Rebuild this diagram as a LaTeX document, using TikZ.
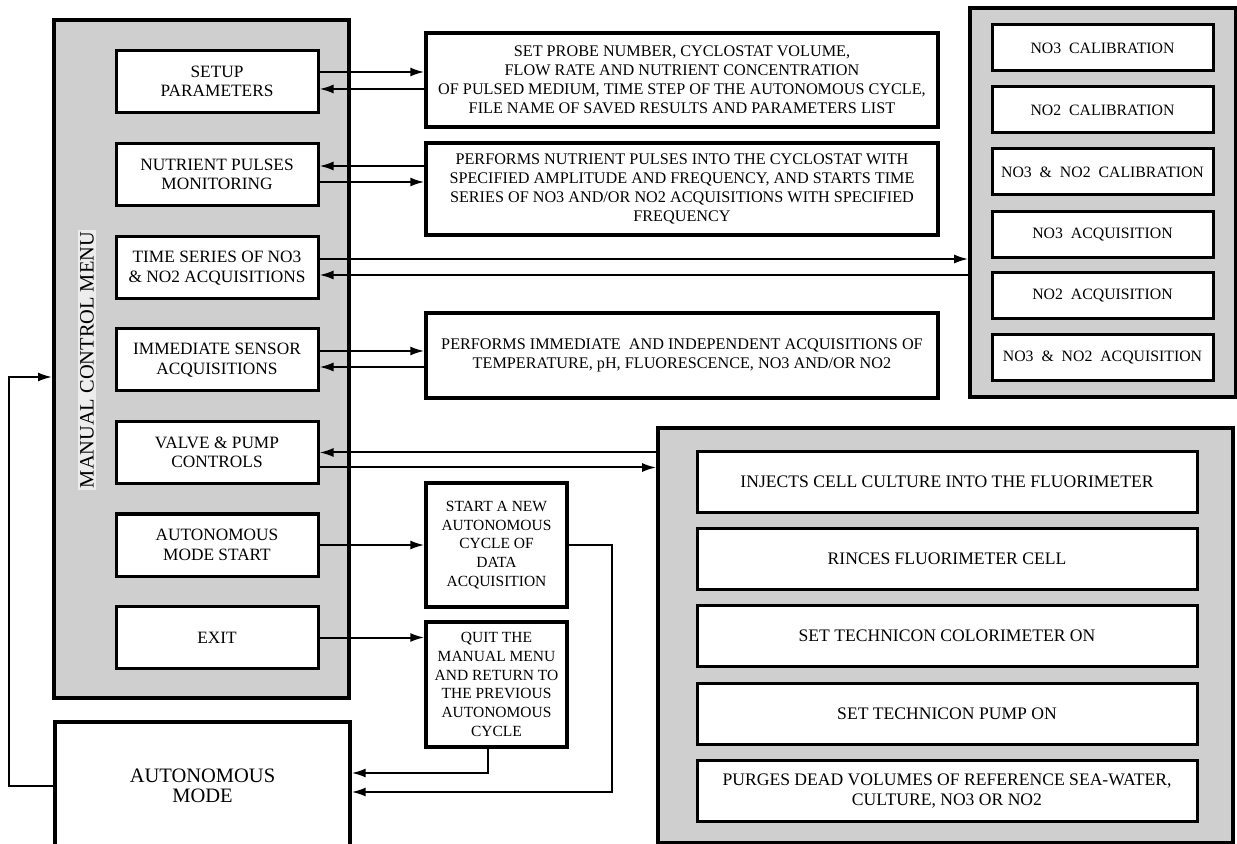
\documentclass[tikz,border=0pt]{standalone}
\usepackage{fontspec}
\setmainfont{Liberation Serif}
\usetikzlibrary{arrows.meta,positioning}

\begin{document}
\begin{tikzpicture}[x=0.5pt,y=-0.5pt,
  panel/.style={draw,line width=1.8pt,fill=black!19,inner sep=0pt},
  menuitem/.style={draw,line width=1.5pt,fill=white,align=center,inner sep=0pt,
    minimum width=101pt,minimum height=31pt,font=\fontsize{8.65}{9.7}\selectfont},
  descbox/.style={draw,line width=1.7pt,fill=white,align=center,inner sep=0pt,
    minimum width=256pt,font=\fontsize{8.1}{9.5}\selectfont},
  listitem/.style={draw,line width=1.5pt,fill=white,align=center,inner sep=0pt,
    font=\fontsize{8.8}{9.6}\selectfont},
  link/.style={line width=1pt,-{Latex[length=7pt,width=4.5pt]}},
  wire/.style={line width=1pt}]
  \useasboundingbox (0,0) rectangle (1237,844);

  % Manual control menu
  \node[panel,line width=2pt,minimum width=147.5pt,minimum height=339pt] (menu) at (201.5,359) {};
  \node[rotate=90,fill=black!7,inner sep=1pt,font=\fontsize{10.2}{11}\selectfont] (menulabel) at (87,360) {MANUAL CONTROL MENU};
  \foreach \name/\y/\txt in {setup/81.5/{SETUP\\PARAMETERS}, pulses/174.5/{NUTRIENT PULSES\\MONITORING},
      series/268/{TIME SERIES OF NO3\\\& NO2 ACQUISITIONS}, sensors/360/{IMMEDIATE SENSOR\\ACQUISITIONS},
      valves/452.5/{VALVE \& PUMP\\CONTROLS}, autostart/545/{AUTONOMOUS\\MODE START}, exit/637.5/{EXIT}} {
    \node[menuitem] (\name) at (217,\y) {\txt};
  }

  % Autonomous mode (runs off the bottom)
  \node[draw,line width=1.7pt,fill=white,minimum width=147.5pt,minimum height=64pt,align=center,
    font=\fontsize{10.25}{10.2}\selectfont] (automode) at (202.5,786) {AUTONOMOUS\\MODE};

  % Descriptions
  \node[descbox,minimum height=47pt] (params) at (682,80) {SET PROBE NUMBER, CYCLOSTAT VOLUME,\\
    FLOW RATE AND NUTRIENT CONCENTRATION\\OF PULSED MEDIUM, TIME STEP OF THE AUTONOMOUS CYCLE,\\
    FILE NAME OF SAVED RESULTS AND PARAMETERS LIST};
  \node[descbox,minimum height=46pt] (pulsedesc) at (682,189) {PERFORMS NUTRIENT PULSES INTO THE CYCLOSTAT WITH\\
    SPECIFIED AMPLITUDE AND FREQUENCY, AND STARTS TIME\\SERIES OF NO3 AND/OR NO2 ACQUISITIONS WITH SPECIFIED\\
    FREQUENCY};
  \node[descbox,minimum height=42.5pt] (sensordesc) at (682,355.5) {PERFORMS IMMEDIATE\ \ AND INDEPENDENT ACQUISITIONS OF\\
    TEMPERATURE, pH, FLUORESCENCE, NO3 AND/OR NO2};
  \node[descbox,minimum width=70.5pt,minimum height=62pt,font=\fontsize{7.75}{9.4}\selectfont] (newcycle) at (496.5,545)
    {START A NEW\\AUTONOMOUS\\CYCLE OF\\DATA\\ACQUISITION};
  \node[descbox,minimum width=70.5pt,minimum height=62.5pt,font=\fontsize{7.75}{9.4}\selectfont] (quitmenu) at (496.5,684.5)
    {QUIT THE\\MANUAL MENU\\AND RETURN TO\\THE PREVIOUS\\AUTONOMOUS\\CYCLE};

  % NO3 / NO2 list
  \node[panel,minimum width=133pt,minimum height=194.5pt] (nolist) at (1103,202.5) {};
  \foreach \name/\y/\txt in {cal3/48/{NO3\ \ CALIBRATION}, cal2/110/{NO2\ \ CALIBRATION},
      cal32/172/{NO3\ \ \&\ \ NO2\ \ CALIBRATION}, acq3/234.5/{NO3\ \ ACQUISITION},
      acq2/295.5/{NO2\ \ ACQUISITION}, acq32/358/{NO3\ \ \&\ \ NO2\ \ ACQUISITION}} {
    \node[listitem,font=\fontsize{7.9}{9}\selectfont,minimum width=110.5pt,minimum height=23pt] (\name) at (1102.5,\y) {\txt};
  }

  % Valve & pump list
  \node[panel,minimum width=287.5pt,minimum height=207.5pt] (valvelist) at (945.5,635.5) {};
  \foreach \name/\y/\txt in {inject/482/{INJECTS CELL CULTURE INTO THE FLUORIMETER},
      rince/559/{RINCES FLUORIMETER CELL}, colorim/636/{SET TECHNICON COLORIMETER ON},
      pump/713.5/{SET TECHNICON PUMP ON},
      purge/791/{PURGES DEAD VOLUMES OF REFERENCE SEA-WATER,\\CULTURE, NO3 OR NO2}} {
    \node[listitem,minimum width=250pt,minimum height=30.5pt] (\name) at (947,\y) {\txt};
  }

  % Connectors
  \draw[link] ([yshift=4.75pt]setup.east) -- ([yshift=4.75pt]setup.east -| params.west);
  \draw[link] ([yshift=-3.75pt]setup.east -| params.west) -- ([yshift=-3.75pt]setup.east);
  \draw[link] ([yshift=4.25pt]pulses.east -| pulsedesc.west) -- ([yshift=4.25pt]pulses.east);
  \draw[link] ([yshift=-3.75pt]pulses.east) -- ([yshift=-3.75pt]pulses.east -| pulsedesc.west);
  \draw[link] ([yshift=4.5pt]series.east) -- ([yshift=4.5pt]series.east -| nolist.west);
  \draw[link] ([yshift=-3.5pt]series.east -| nolist.west) -- ([yshift=-3.5pt]series.east);
  \draw[link] ([yshift=4.5pt]sensors.east) -- ([yshift=4.5pt]sensors.east -| sensordesc.west);
  \draw[link] ([yshift=-3.5pt]sensors.east -| sensordesc.west) -- ([yshift=-3.5pt]sensors.east);
  \draw[link] (valves.east -| valvelist.west) -- (valves.east);
  \draw[link] ([yshift=-7.5pt]valves.east) -- ([yshift=-7.5pt]valves.east -| valvelist.west);
  \draw[link] (autostart.east) -- (autostart.east -| newcycle.west);
  \draw[link] (exit.east) -- (exit.east -| quitmenu.west);

  % back to autonomous mode
  \coordinate (cyc) at (612,792);
  \coordinate (qt) at (488,773);
  \coordinate (fb) at (9,377);
  \draw[link] (newcycle.east) -| (cyc) -- (cyc -| automode.east);
  \draw[link] (qt |- quitmenu.south) -- (qt) -- (qt -| automode.east);
  \draw[link] (automode.west) -| (fb) -- (fb -| menu.west);
\end{tikzpicture}
\end{document}
